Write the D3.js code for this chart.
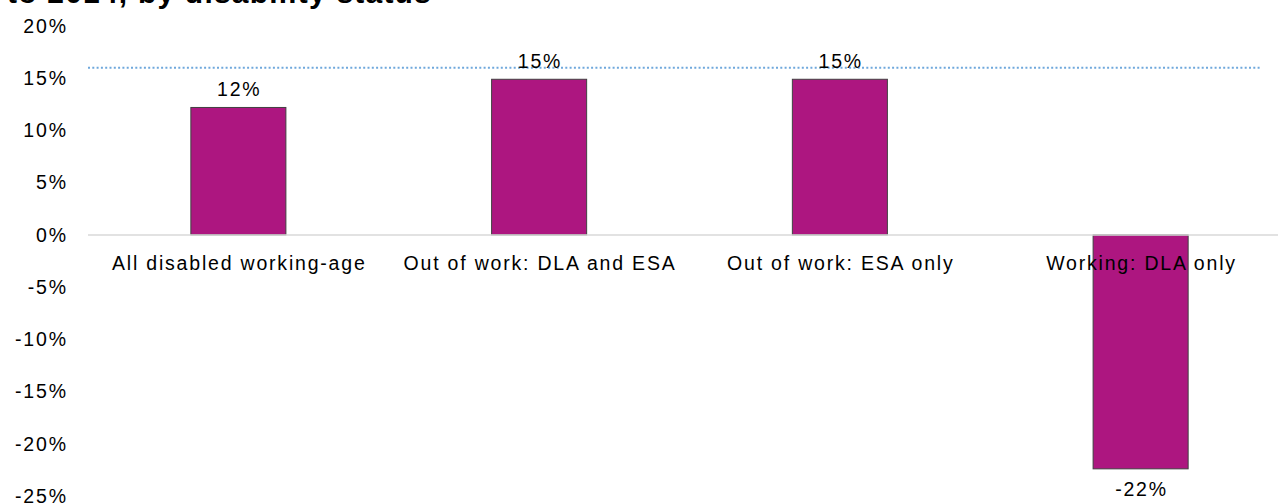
<!DOCTYPE html>
<html><head><meta charset="utf-8">
<script src="https://cdn.jsdelivr.net/npm/d3@7"></script>
<style>body{margin:0;background:#fff;} svg{display:block;font-family:"Liberation Sans",Arial,sans-serif;}</style>
</head><body>
<svg id="c" width="1278" height="504"></svg>
<script>
const categories = ["All disabled working-age","Out of work: DLA and ESA","Out of work: ESA only","Working: DLA only"];
const values = [12.2, 14.9, 14.9, -22.4];
const valueLabels = ["12%","15%","15%","-22%"];
const yTicks = [20,15,10,5,0,-5,-10,-15,-20,-25];
const referenceValue = 16;
const titleText = "Change in claimant numbers, 2010 to 2014, by disability status";

const LS = 1.8, FS = 19.5;
const svg = d3.select("#c");
const x = d3.scaleBand().domain(categories).range([88, 1291]).paddingInner(0.684).paddingOuter(0.342);
const y = d3.scaleLinear().domain([-25, 20]).range([496, 26]);

svg.append("text").attr("x", 432).attr("y", 3).attr("text-anchor","end")
  .attr("font-size", 30).attr("font-weight","bold").attr("letter-spacing", 1.2).attr("fill","#000").text(titleText);

// y tick labels
const yAxis = d3.axisLeft(y).tickValues(yTicks).tickFormat(d => d + "%").tickSize(0).tickPadding(0);
const ga = svg.append("g").attr("transform","translate(" + (66 + LS) + ",0)").call(yAxis);
ga.select(".domain").remove();
ga.selectAll("text").attr("font-size", FS).attr("letter-spacing", LS).attr("fill","#000")
  .attr("font-family","'Liberation Sans',Arial,sans-serif");

// bars
svg.append("g").selectAll("rect").data(categories).join("rect")
  .attr("x", d => x(d)).attr("width", x.bandwidth())
  .attr("y", (d,i) => y(Math.max(0, values[i])))
  .attr("height", (d,i) => Math.abs(y(values[i]) - y(0)))
  .attr("fill", "#AD1680").attr("stroke", "#404040").attr("stroke-width", 1);

// zero line
svg.append("line").attr("x1", 88).attr("x2", 1278).attr("y1", y(0)).attr("y2", y(0))
  .attr("stroke", "#D9D9D9").attr("stroke-width", 1.5);

// reference dotted line
svg.append("line").attr("x1", 88).attr("x2", 1260).attr("y1", y(referenceValue)).attr("y2", y(referenceValue))
  .attr("stroke", "#6FA8DC").attr("stroke-width", 2).attr("stroke-dasharray", "2,2.3");

// category labels
svg.append("g").selectAll("text").data(categories).join("text")
  .attr("x", d => x(d) + x.bandwidth()/2 + LS/2).attr("y", y(0) + 35)
  .attr("text-anchor","middle").attr("font-size", FS).attr("letter-spacing", LS).attr("fill","#000").text(d => d);

// value labels
svg.append("g").selectAll("text").data(categories).join("text")
  .attr("x", d => x(d) + x.bandwidth()/2 + LS/2)
  .attr("y", (d,i) => values[i] >= 0 ? y(values[i]) - 11 : y(values[i]) + 27)
  .attr("text-anchor","middle").attr("font-size", FS).attr("letter-spacing", LS).attr("fill","#000").text((d,i) => valueLabels[i]);
</script>
</body></html>
